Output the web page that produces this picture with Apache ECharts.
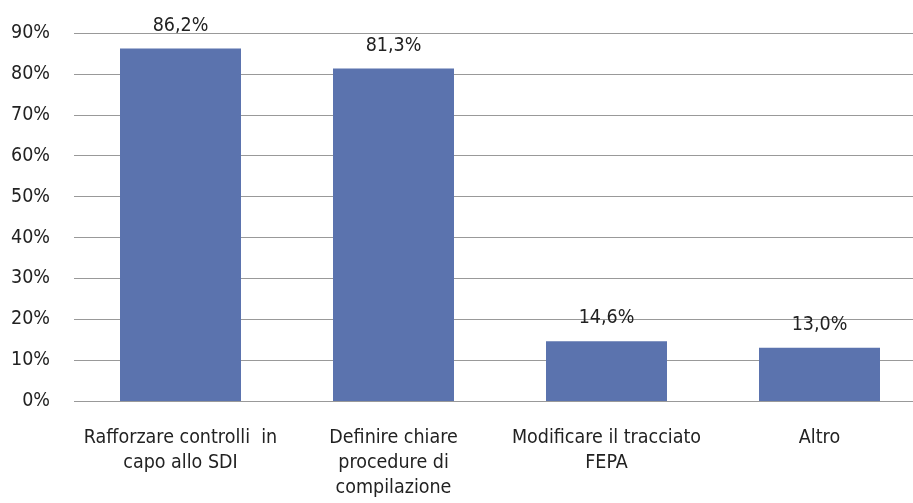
<!DOCTYPE html>
<html><head><meta charset="utf-8">
<script src="https://cdn.jsdelivr.net/npm/echarts@6/dist/echarts.min.js"></script>
<style>html,body{margin:0;padding:0;background:#fff;overflow:hidden}#c{width:926px;height:503px}</style>
</head><body><div id="c"></div>
<script>
const categories = ["Rafforzare controlli  in\ncapo allo SDI", "Definire chiare\nprocedure di\ncompilazione", "Modificare il tracciato\nFEPA", "Altro"];
const values = [86.2, 81.3, 14.6, 13.0];
const yTicks = [0, 10, 20, 30, 40, 50, 60, 70, 80, 90];
const FONT = "'Liberation Sans Narrow', 'DejaVu Sans Condensed', 'Roboto Condensed', sans-serif";
const chart = echarts.init(document.getElementById('c'));
chart.setOption({
  animation: false,
  grid: {left: 74, top: 33, right: 0, bottom: 102, containLabel: false},
  xAxis: {
    type: 'category', data: categories,
    axisLine: {show: false}, axisTick: {show: false},
    axisLabel: {fontFamily: FONT, fontSize: 19.5, color: '#222', margin: 24, lineHeight: 25, interval: 0}
  },
  yAxis: {
    type: 'value', min: yTicks[0], max: yTicks[yTicks.length - 1], interval: 10,
    axisLine: {show: false}, axisTick: {show: false},
    axisLabel: {fontFamily: FONT, fontSize: 19.5, color: '#222', margin: 24, formatter: v => v + '%'},
    splitLine: {lineStyle: {color: '#999', width: 1.2}}
  },
  series: [{
    type: 'bar', data: values, barWidth: 121,
    itemStyle: {color: '#5b73ae'},
    label: {show: true, position: 'top', distance: 13, fontFamily: FONT, fontSize: 19.5, color: '#222',
      formatter: p => p.value.toFixed(1).replace('.', ',') + '%'}
  }]
});
</script></body></html>
